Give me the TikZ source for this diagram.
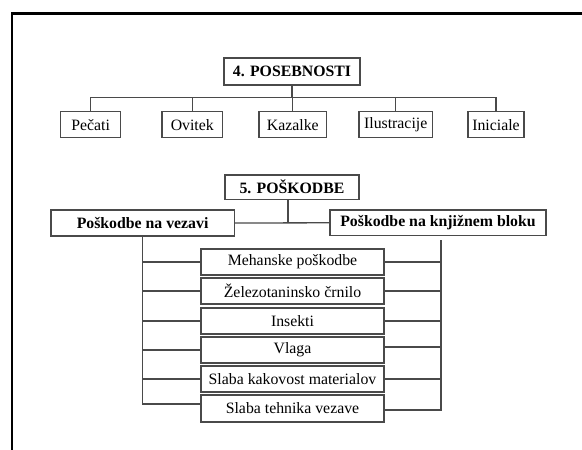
\documentclass[tikz,border=0pt]{standalone}
\usepackage{fontspec}
\setmainfont{Liberation Serif}
\begin{document}
\begin{tikzpicture}[x=1pt,y=-1pt,
  lbox/.style={draw=lncol, line width=1.3pt, fill=white, inner sep=0pt, text=black,
    font=\fontsize{15.8}{18}\selectfont},
  hbox/.style={lbox, font=\fontsize{15.8}{18}\selectfont\bfseries},
  conn/.style={draw=lncol, line width=1.3pt}]
\definecolor{lncol}{HTML}{4A4A4A}
\useasboundingbox (0,0) rectangle (582,450);
\fill[white] (0,0) rectangle (582,450);
% frame
\draw[line width=2.5pt, black] (12,450) -- (12,13.5) -- (582,13.5);

% section 4
\node[hbox, minimum width=136pt, minimum height=27pt] (t4) at (292,71.5) {4. POSEBNOSTI};
\node[lbox, minimum width=60pt, minimum height=26pt] (b1) at (90.7,124.7) {Pečati};
\node[lbox, minimum width=60.7pt, minimum height=26pt] (b2) at (192.3,124.7) {Ovitek};
\node[lbox, minimum width=67.7pt, minimum height=26pt] (b3) at (292.8,124.7) {Kazalke};
\node[lbox, minimum width=73.3pt, minimum height=26pt] (b4) at (395.7,124.7) {Ilustracije};
\node[lbox, minimum width=56pt, minimum height=26pt] (b5) at (496,124.7) {Iniciale};
\coordinate (bus) at (0,97.3);
\draw[conn] (t4.south) -- (t4.south |- bus);
\draw[conn] (b1.north) -- (b1.north |- bus) -- (b5.north |- bus) -- (b5.north);
\foreach \b in {b2,b3,b4} \draw[conn] (\b.north) -- (\b.north |- bus);

% section 5
\node[hbox, minimum width=134pt, minimum height=24.3pt] (t5) at (292,187.2) {5. POŠKODBE};
\node[hbox, minimum width=183.3pt, minimum height=26pt] (lv) at (142.6,223) {Poškodbe na vezavi};
\node[hbox, minimum width=216pt, minimum height=25.7pt] (rk) at (438,222.8) {Poškodbe na knjižnem bloku};
\draw[conn] (lv.east) -- (rk.west);
\coordinate (t5d) at ([xshift=-4pt]t5.south);
\draw[conn] (t5d) -- (t5d |- lv.east);

\node[lbox, minimum width=183pt, minimum height=26pt] (m1) at (292.5,262) {Mehanske poškodbe};
\node[lbox, minimum width=183pt, minimum height=26pt] (m2) at (292.5,291) {Železotaninsko črnilo};
\node[lbox, minimum width=183pt, minimum height=26pt] (m3) at (292.5,321) {Insekti};
\node[lbox, minimum width=183pt, minimum height=26pt] (m4) at (292.5,350) {Vlaga};
\node[lbox, minimum width=183pt, minimum height=26pt] (m5) at (292.5,379) {Slaba kakovost materialov};
\node[lbox, minimum width=183pt, minimum height=27pt] (m6) at (292.5,408.5) {Slaba tehnika vezave};

% left trunk
\coordinate (m6up) at ([yshift=4.5pt]m6.west);
\draw[conn] (lv.south) -- (lv.south |- m6up) -- (m6up);
\foreach \m in {m1,m2,m3,m4,m5} \draw[conn] (\m.west) -- (\m.west -| lv.south);

% right trunk
\coordinate (rt) at (441,240);
\coordinate (m6dn) at ([yshift=-1.5pt]m6.east);
\coordinate (m4up) at ([yshift=3pt]m4.east);
\draw[conn] (rt) -- (rt |- m6dn) -- (m6dn);
\foreach \m in {m1,m2,m3,m5} \draw[conn] (\m.east) -- (\m.east -| rt);
\draw[conn] (m4up) -- (m4up -| rt);
\end{tikzpicture}
\end{document}
